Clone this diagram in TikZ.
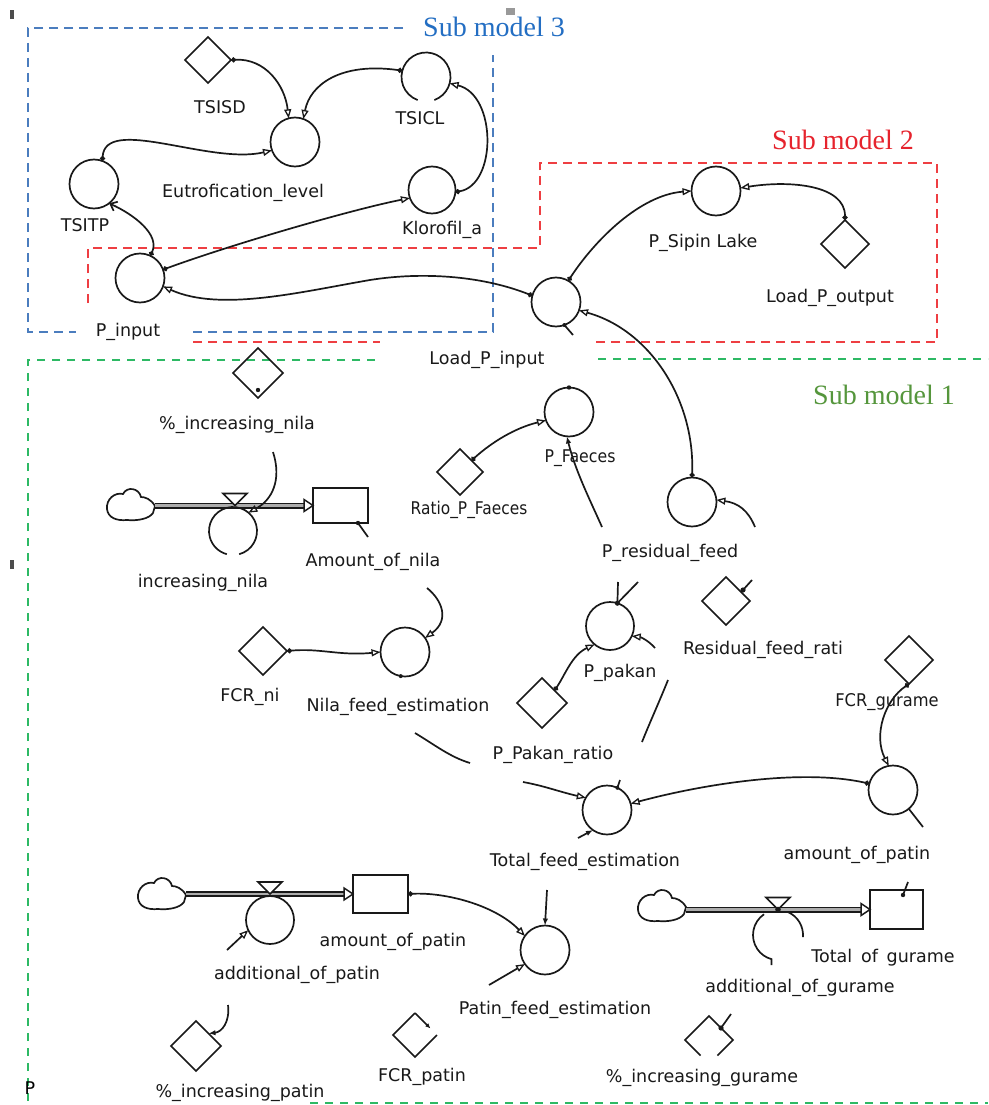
\documentclass[tikz,border=0pt]{standalone}
\usepackage{fontspec}
\setmainfont{DejaVu Sans}
\newfontfamily\subfont{Liberation Serif}
\usetikzlibrary{arrows.meta,shapes.geometric,calc}
\definecolor{smblue}{RGB}{75,125,190}
\definecolor{smbluet}{RGB}{35,110,195}
\definecolor{smred}{RGB}{238,62,66}
\definecolor{smredt}{RGB}{230,35,45}
\definecolor{smgreen}{RGB}{45,185,100}
\definecolor{smgreent}{RGB}{85,150,60}
\definecolor{ink}{RGB}{25,25,25}
\tikzset{
  ln/.style={draw=ink,line width=1.7pt},
  conv/.style={circle,draw=ink,line width=1.7pt,minimum size=49pt,inner sep=0pt,outer sep=0pt},
  convn/.style={circle,minimum size=49pt,inner sep=0pt,outer sep=0pt},
  cst/.style={diamond,draw=ink,line width=1.7pt,minimum size=48pt,inner sep=0pt,outer sep=0pt},
  cstn/.style={diamond,minimum size=46pt,inner sep=0pt,outer sep=0pt},
  stock/.style={rectangle,draw=ink,line width=1.9pt,inner sep=0pt,outer sep=0pt},
  conn/.style={ln,{Circle[length=5pt]}-{Triangle[open,length=9pt,width=7pt,line width=1.3pt]}},
  connS/.style={ln,-{Triangle[open,length=9pt,width=7pt,line width=1.3pt]}},
  connF/.style={ln,-{Latex[length=7pt,width=5.5pt]}},
  pipe/.style={draw=ink,line width=1.9pt,double=gray!65,double distance=2.2pt},
  pipetip/.style={draw=ink,line width=1.5pt,fill=white},
  lbl/.style={font=\fontsize{17.5}{21}\selectfont,text=ink,inner sep=0pt},
  subt/.style={font=\subfont\fontsize{28}{30}\selectfont,inner sep=0pt},
  bluedash/.style={draw=smblue,line width=1.8pt,dash pattern=on 9pt off 6pt},
  reddash/.style={draw=smred,line width=2.6pt,dash pattern=on 9pt off 6pt},
  greendash/.style={draw=smgreen,line width=2.6pt,dash pattern=on 8pt off 7pt},
  sfcloud/.pic={\draw[ln] (24,1) .. controls (20,-6) and (14,-8) .. (10,-8)
      .. controls (8,-17) and (-4,-19) .. (-8,-11)
      .. controls (-16,-13) and (-25,-6) .. (-24,4)
      .. controls (-23,13) and (-14,16) .. (-4,15)
      .. controls (6,16) and (18,14) .. (22,8) -- cycle;}
}
\begin{document}
\begin{tikzpicture}[x=1pt,y=-1pt]
\useasboundingbox (0,0) rectangle (988,1105);
\fill[white] (0,0) rectangle (988,1105);

% ---------- sub model frames ----------
\draw[bluedash] (403,28) -- (28,28) -- (28,332) -- (76,332);
\draw[bluedash] (193,332) -- (493,332) -- (493,55);
\draw[reddash] (88,303) -- (88,248) -- (540,248) -- (540,163) -- (937,163) -- (937,342) -- (595,342);
\draw[reddash] (193,342) -- (380,342);
\draw[greendash] (375,360) -- (28,360) -- (28,1105);
\draw[greendash] (598,359) -- (988,359);
\draw[greendash] (310,1103) -- (988,1103);
\node[subt,text=smbluet] (sm3) at (494,27) {Sub model 3};
\node[subt,text=smredt] (sm2) at (843,140) {Sub model 2};
\node[subt,text=smgreent] (sm1) at (884,395) {Sub model 1};

% small marks
\fill[black!70] (10,10) rectangle (14,19);
\fill[gray!80] (506,8) rectangle (515,15);
\fill[black!70] (10,560) rectangle (14,569);

% ---------- sub model 3 ----------
\node[cst,minimum size=46pt] (tsisd) at (208,60) {};
\node[conv] (eut) at (295,142) {};
\node[convn] (tsicl) at (426,77) {};
\draw[ln] (tsicl.-70) arc[start angle=-70,end angle=250,radius=24.5pt];
\node[conv] (tsitp) at (94,184) {};
\node[conv,minimum size=47pt] (klor) at (432,190) {};
\node[conv] (pin) at (140,278) {};

\node[lbl] (tsisdL) at (220,107) {TSISD};
\node[lbl] (tsiclL) at (420,118) {TSICL};
\node[lbl] (eutL) at (243,193) {Eutrofication\_level};
\node[lbl] (tsitpL) at (85,225) {TSITP};
\node[lbl] (klorL) at (442,230) {Klorofil\_a};
\node[lbl] (pinL) at (128,332) {P\_input};

\draw[conn] (tsisd.east) .. controls (265,58) and (285,85) .. (eut.105);
\draw[conn] (tsicl.165) .. controls (340,62) and (310,85) .. (eut.70);
\draw[conn] (klor.-5) .. controls (497,185) and (497,95) .. (tsicl.-15);
\draw[conn] (tsitp.70) .. controls (105,115) and (210,165) .. (eut.200);
\draw[ln,{Circle[length=5pt]}-{Straight Barb[length=6pt,width=10pt]}] (pin.65) .. controls (160,235) and (135,215) .. (tsitp.-52);
\draw[conn] (pin.20) .. controls (230,245) and (350,210) .. (klor.200);

% ---------- sub model 2 ----------
\node[conv] (lpin) at (556,302) {};
\node[conv] (psip) at (716,191) {};
\node[cst] (lpout) at (845,244) {};
\node[lbl] (lpinL) at (487,360) {Load\_P\_input};
\node[lbl] (psipL) at (703,243) {P\_Sipin Lake};
\node[lbl] (lpoutL) at (830,298) {Load\_P\_output};

\draw[conn] (lpin.165) .. controls (480,275) and (420,272) .. (370,280)
   .. controls (300,292) and (220,312) .. (pin.-20);
\draw[conn] (lpin.60) .. controls (595,240) and (640,195) .. (psip.180);
\draw[conn] (lpout.north) .. controls (845,185) and (790,180) .. (psip.7);
\coordinate (lpinS) at (573,335);
\draw[ln] (lpin.-70) -- (lpinS);
\fill[ink] (lpin.-70) circle[radius=2pt];

% ---------- sub model 1 : nila ----------
\node[cst,minimum size=50pt] (ninc) at (258,373) {};
\fill[ink] (258,390) circle[radius=2.2pt];
\node[lbl] (nincL) at (237,425) {\%\_increasing\_nila};

\pic at (131,505) {sfcloud};
\coordinate (cl1e) at (155,505.5);
\node[stock,minimum width=55pt,minimum height=35pt] (stk1) at (340.5,505.5) {};
\draw[pipe] (cl1e) -- ($(stk1.west)+(-9,0)$);
\draw[pipetip] (stk1.west) -- ++(-9,-6) -- ++(0,12) -- cycle;
\coordinate (v1) at (235,505.5);
\draw[ln,fill=white] (v1) -- ++(-12,-12) -- ++(24,0) -- cycle;
\node[convn,minimum size=48pt] (incn) at (233,531) {};
\draw[ln] (incn.-75) arc[start angle=-75,end angle=255,radius=24pt];
\coordinate (nincA) at (273,452);
\draw[connS] (nincA) .. controls (282,480) and (272,500) .. (incn.50);
\coordinate (stk1d) at (358,523);
\coordinate (stk1s) at (368,537);
\draw[ln] (stk1d) -- (stk1s);
\fill[ink] (stk1d) circle[radius=2.2pt];
\node[lbl] (incnL) at (203,583) {increasing\_nila};
\node[lbl] (stk1L) at (373,562) {Amount\_of\_nila};

\node[conv] (nfe) at (405,652) {};
\coordinate (nfeA) at (427,588);
\draw[connS] (nfeA) .. controls (442,600) and (450,620) .. (nfe.35);
\node[cst] (fcrni) at (263,651) {};
\draw[conn] (fcrni.east) .. controls (320,648) and (340,656) .. (nfe.180);
\fill[ink] (nfe.-100) circle[radius=2pt];
\node[lbl] (fcrniL) at (250,697) {FCR\_ni};
\node[lbl] (nfeL) at (398,707) {Nila\_feed\_estimation};
\coordinate (sa1) at (415,733);
\coordinate (sa2) at (470,763);
\draw[ln] (sa1) .. controls (435,745) and (450,757) .. (sa2);

% ---------- P faeces / residual ----------
\node[cst,minimum size=46pt] (ratio) at (460,472) {};
\node[conv] (pfae) at (569,412) {};
\draw[conn] (ratio.north east) .. controls (492,442) and (515,428) .. (pfae.200);
\fill[ink] (pfae.north) circle[radius=2.2pt];
\coordinate (pfaeA) at (602,527);
\draw[connF] (pfaeA) .. controls (590,500) and (575,470) .. (pfae.-95);
\node[lbl] (ratioL) at (469,510) {\scalebox{0.88}[1]{Ratio\_P\_Faeces}};
\node[lbl] (pfaeL) at (580,458) {\scalebox{0.9}[1]{P\_Faeces}};

\node[conv] (pres) at (692,502) {};
\draw[conn] (pres.north) .. controls (695,400) and (650,330) .. (lpin.-20);
\coordinate (presA) at (755,527);
\draw[connS] (presA) .. controls (748,510) and (738,503) .. (pres.5);
\node[lbl] (presL) at (670,553) {P\_residual\_feed};

% ---------- P pakan ----------
\node[conv,minimum size=48pt] (ppak) at (610,626) {};
\coordinate (ppA1) at (618,582);
\coordinate (ppA2) at (638,582);
\draw[ln] (ppA1) -- (ppak.72);
\draw[ln] (ppA2) -- (ppak.72);
\fill[ink] (ppak.72) circle[radius=2.6pt];
\coordinate (ppB) at (655,648);
\draw[connS] (ppB) .. controls (648,640) and (640,637) .. (ppak.-25);
\node[cst,minimum size=50pt] (ppr) at (542,703) {};
\draw[conn] (ppr.north east) .. controls (565,675) and (572,655) .. (ppak.-130);
\coordinate (pq1) at (668,680);
\coordinate (pq2) at (642,742);
\draw[ln] (pq1) .. controls (660,700) and (650,722) .. (pq2);
\node[lbl] (ppakL) at (620,673) {P\_pakan};
\node[lbl] (pprL) at (553,755) {P\_Pakan\_ratio};

\node[cst] (resr) at (726,601) {};
\coordinate (resrA) at (752,580);
\coordinate (resrD) at (743,590);
\draw[ln] (resrA) -- (resrD);
\fill[ink] (resrD) circle[radius=2.6pt];
\node[lbl] (resrL) at (763,650) {Residual\_feed\_rati};

% ---------- gurame FCR / amount of patin / total feed ----------
\node[cst] (fcrg) at (909,660) {};
\node[conv] (aop) at (893,790) {};
\draw[conn] (fcrg.south) .. controls (885,700) and (873,735) .. (aop.100);
\coordinate (aopA) at (923,827);
\draw[ln] (aop.-50) -- (aopA);
\node[lbl] (fcrgL) at (887,702) {\scalebox{0.93}[1]{FCR\_gurame}};
\node[lbl] (aopL) at (857,855) {amount\_of\_patin};

\node[conv] (tfe) at (607,810) {};
\draw[conn] (aop.165) .. controls (800,768) and (700,785) .. (tfe.15);
\coordinate (tfeA) at (523,782);
\draw[connS] (tfeA) .. controls (545,786) and (560,792) .. (tfe.150);
\coordinate (tfeT) at (620,780);
\draw[ln] (tfeT) -- (tfe.65);
\fill[ink] (tfe.65) circle[radius=2pt];
\coordinate (tfeB) at (578,838);
\draw[connF] (tfeB) -- (tfe.235);
\node[lbl] (tfeL) at (585,862) {Total\_feed\_estimation};

% ---------- patin flow ----------
\pic at (162,894) {sfcloud};
\coordinate (cl2e) at (186,894);
\node[stock,minimum width=55pt,minimum height=38pt] (stk2) at (380.5,894) {};
\draw[pipe] (cl2e) -- ($(stk2.west)+(-9,0)$);
\draw[pipetip] (stk2.west) -- ++(-9,-6) -- ++(0,12) -- cycle;
\coordinate (v2) at (270,894);
\draw[ln,fill=white] (v2) -- ++(-12,-12) -- ++(24,0) -- cycle;
\node[conv,minimum size=48pt] (addp) at (270,920) {};
\coordinate (addpA) at (227,950);
\draw[connS] (addpA) -- (addp.205);
\node[lbl] (stk2L) at (393,942) {amount\_of\_patin};
\node[lbl] (addpL) at (297,975) {additional\_of\_patin};

\node[conv] (pfe) at (545,950) {};
\draw[conn] (stk2.east) .. controls (445,892) and (495,905) .. (pfe.145);
\coordinate (pfeA) at (547,890);
\draw[connF] (pfeA) -- (pfe.north);
\coordinate (pfeB) at (489,985);
\draw[connS] (pfeB) -- (pfe.215);
\node[lbl] (pfeL) at (555,1010) {Patin\_feed\_estimation};

% ---------- bottom constants ----------
\node[cst,minimum size=50pt] (incp) at (196,1046) {};
\coordinate (incpA) at (228,1005);
\draw[connF] (incpA) .. controls (230,1022) and (222,1032) .. (incp.north east);
\node[lbl] (incpL) at (240,1093) {\%\_increasing\_patin};

\node[cstn,minimum size=44pt] (fcrp) at (415,1035) {};
\draw[ln] (fcrp.east) -- (fcrp.south) -- (fcrp.west) -- (fcrp.north);
\draw[ln,-{Latex[length=5pt,width=4.5pt]}] (fcrp.north) -- ($(fcrp.north)!0.7!(fcrp.east)$);
\node[lbl] (fcrpL) at (422,1077) {FCR\_patin};

\node[cstn,minimum size=48pt] (incg) at (709,1040) {};
\draw[ln] ($(incg.south)!0.35!(incg.west)$) -- (incg.west) -- (incg.north) -- (incg.east) -- ($(incg.east)!0.65!(incg.south)$);
\coordinate (incgA) at (731,1014);
\draw[ln] (incgA) -- (incg.north east);
\fill[ink] (incg.north east) circle[radius=2.6pt];
\node[lbl] (incgL) at (702,1078) {\%\_increasing\_gurame};

% ---------- gurame flow ----------
\pic at (662,906) {sfcloud};
\coordinate (cl3e) at (686,909.5);
\node[stock,minimum width=53pt,minimum height=39pt] (stk3) at (896.5,909.5) {};
\draw[pipe] (cl3e) -- ($(stk3.west)+(-9,0)$);
\draw[pipetip] (stk3.west) -- ++(-9,-6) -- ++(0,12) -- cycle;
\coordinate (v3) at (778,909.5);
\draw[ln,fill=white] (v3) -- ++(-12,-12) -- ++(24,0) -- cycle;
\fill[ink] (v3) circle[radius=2.8pt];
\node[convn,minimum size=50pt] (gconv) at (778,935) {};
\draw[ln] (gconv.66) arc[start angle=66,end angle=-5,radius=25pt];
\draw[ln] (gconv.124) arc[start angle=124,end angle=255,radius=25pt] -- ++(0,6);
\coordinate (stk3A) at (908,882);
\coordinate (stk3D) at (903,895);
\draw[ln] (stk3A) -- (stk3D);
\fill[ink] (stk3D) circle[radius=2.2pt];
\node[lbl] (stk3L) at (883,958) {Total\enspace of\enspace gurame};
\node[lbl] (gconvL) at (800,988) {additional\_of\_gurame};

\node[lbl,text=black] (pL) at (30,1088) {P};
\end{tikzpicture}
\end{document}
